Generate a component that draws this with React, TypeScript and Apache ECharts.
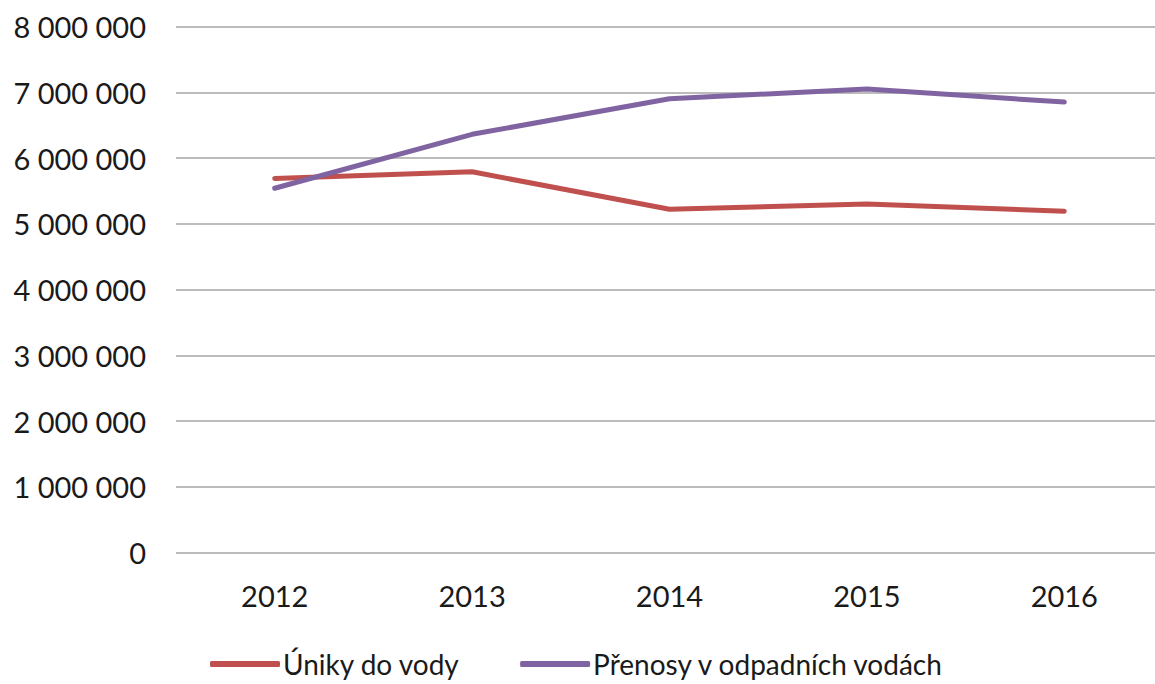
import React, { useEffect, useRef } from "react";
import * as echarts from "echarts";

const years = ["2012", "2013", "2014", "2015", "2016"];
const unikyDoVody = [5690000, 5790000, 5220000, 5300000, 5190000];
const prenosyVOdpadnichVodach = [5540000, 6360000, 6900000, 7050000, 6850000];
const seriesNames = ["Úniky do vody", "Přenosy v odpadních vodách"];

function formatNum(v: number): string {
  return String(v).replace(/\B(?=(\d{3})+(?!\d))/g, " ");
}

export default function App() {
  const ref = useRef<HTMLDivElement>(null);
  useEffect(() => {
    if (!ref.current) return;
    const chart = echarts.init(ref.current, null, { renderer: "svg" });
    const font = "Lato, 'Noto Sans', sans-serif";
    chart.setOption({
      animation: false,
      backgroundColor: "#ffffff",
      textStyle: { fontFamily: font },
      grid: { left: 176, right: 0, top: 26.5, bottom: 131.5, containLabel: false },
      xAxis: {
        type: "category",
        data: years,
        boundaryGap: true,
        axisLine: { show: false },
        axisTick: { show: false },
        axisLabel: { color: "#1a1a1a", fontSize: 29, fontFamily: font, margin: 28 },
      },
      yAxis: {
        type: "value",
        min: 0,
        max: 8000000,
        interval: 1000000,
        axisLine: { show: false },
        axisTick: { show: false },
        splitLine: { lineStyle: { color: "#a6a6a6", width: 1.5 } },
        axisLabel: {
          color: "#1a1a1a",
          fontSize: 29,
          fontFamily: font,
          margin: 30,
          formatter: (v: number) => formatNum(v),
        },
      },
      legend: {
        left: 205,
        top: 645,
        itemWidth: 70,
        itemHeight: 6,
        itemGap: 60,
        icon: "roundRect",
        textStyle: { color: "#1a1a1a", fontSize: 28, fontFamily: font, padding: [0, 0, 0, -2] },
        data: seriesNames,
      },
      series: [
        {
          name: seriesNames[0],
          type: "line",
          data: unikyDoVody,
          showSymbol: false,
          symbol: "none",
          lineStyle: { color: "#c0504d", width: 5, cap: "round", join: "round" },
          itemStyle: { color: "#c0504d" },
        },
        {
          name: seriesNames[1],
          type: "line",
          data: prenosyVOdpadnichVodach,
          showSymbol: false,
          symbol: "none",
          lineStyle: { color: "#8064a2", width: 5, cap: "round", join: "round" },
          itemStyle: { color: "#8064a2" },
        },
      ],
    });
    return () => chart.dispose();
  }, []);
  return (
    <div style={{ position: "fixed", left: 0, top: 0, width: 1155, height: 684, overflow: "hidden" }}>
      <div ref={ref} style={{ position: "absolute", left: 0, top: 0, width: 1163, height: 684 }} />
    </div>
  );
}
